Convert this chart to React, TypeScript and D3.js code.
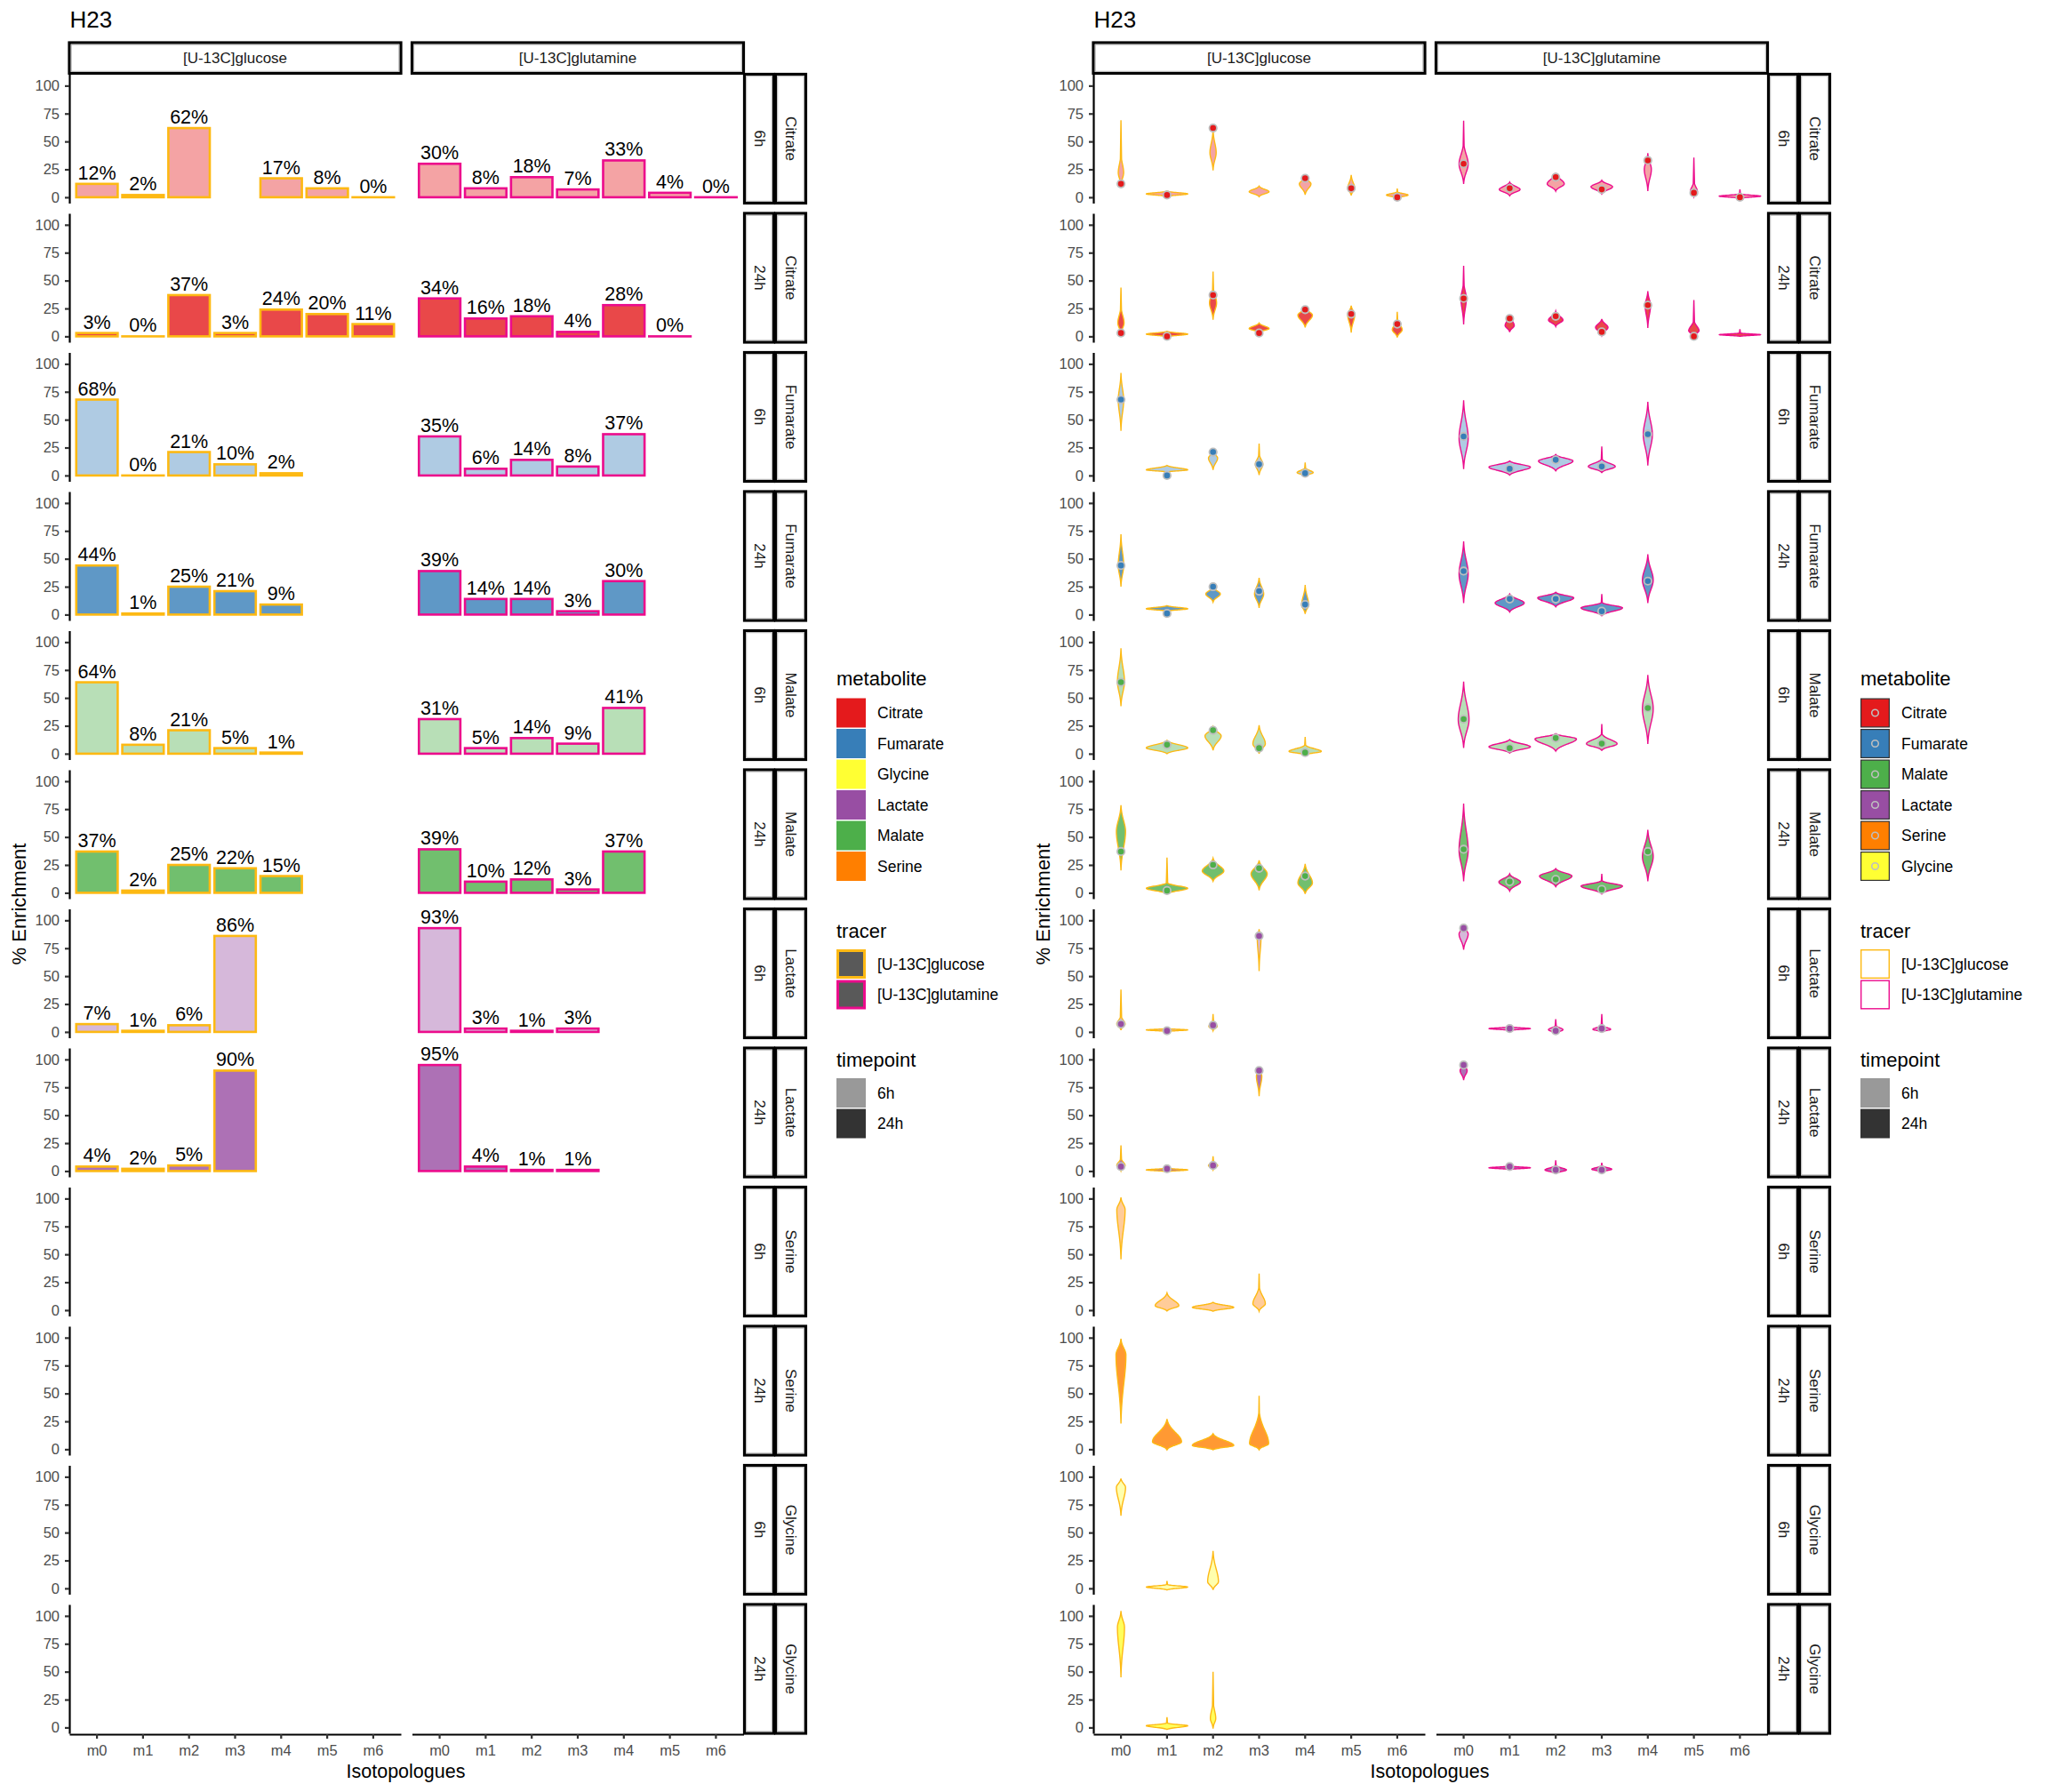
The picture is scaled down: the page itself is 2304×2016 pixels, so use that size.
import * as d3 from 'd3';
import React, { useEffect, useRef } from 'react';

// Categories
const isotopologues = ["m0", "m1", "m2", "m3", "m4", "m5", "m6"];
const tracers = ["[U-13C]glucose", "[U-13C]glutamine"];
const timepoints = ["6h", "24h"];
const rowMetabolites = ["Citrate", "Fumarate", "Malate", "Lactate", "Serine", "Glycine"];
const barLegendOrder = ["Citrate", "Fumarate", "Glycine", "Lactate", "Malate", "Serine"];
const violinLegendOrder = ["Citrate", "Fumarate", "Malate", "Lactate", "Serine", "Glycine"];
const yTicks = [0, 25, 50, 75, 100];

// Mean % enrichment per isotopologue (null = no bar)
const citrate6hGlc = [12, 2, 62, null, 17, 8, 0];
const citrate6hGln = [30, 8, 18, 7, 33, 4, 0];
const citrate24hGlc = [3, 0, 37, 3, 24, 20, 11];
const citrate24hGln = [34, 16, 18, 4, 28, 0, null];
const fumarate6hGlc = [68, 0, 21, 10, 2, null, null];
const fumarate6hGln = [35, 6, 14, 8, 37, null, null];
const fumarate24hGlc = [44, 1, 25, 21, 9, null, null];
const fumarate24hGln = [39, 14, 14, 3, 30, null, null];
const malate6hGlc = [64, 8, 21, 5, 1, null, null];
const malate6hGln = [31, 5, 14, 9, 41, null, null];
const malate24hGlc = [37, 2, 25, 22, 15, null, null];
const malate24hGln = [39, 10, 12, 3, 37, null, null];
const lactate6hGlc = [7, 1, 6, 86, null, null, null];
const lactate6hGln = [93, 3, 1, 3, null, null, null];
const lactate24hGlc = [4, 2, 5, 90, null, null, null];
const lactate24hGln = [95, 4, 1, 1, null, null, null];

// Violin outlines per isotopologue: [low, densest, high, relative width, thin tail end?]
type V = number[] | null;
const citrate6hGlcViolin: V[] = [[10, 22, 40, 0.13, 69], [0.6, 3, 5.5, 1], [24, 40, 60.5, 0.15], [0.5, 5, 10, 0.48], [2.3, 12, 18.5, 0.28], [1.6, 8, 20, 0.17], [-1, 2, 5, 0.52, 7.8]];
const citrate6hGlnViolin: V[] = [[12, 29.8, 50, 0.22, 68.6], [1.3, 7, 13.6, 0.5], [5.5, 12, 21.7, 0.41], [2.9, 9.4, 15.2, 0.52], [5.5, 25, 39.5, 0.17], [0.6, 5, 15, 0.17, 35.6], [-1, 1, 3, 1, 7]];
const citrate24hGlcViolin: V[] = [[1.6, 12, 28, 0.15, 43.8], [-0.5, 2, 4.5, 1], [15, 30, 45, 0.17, 58], [3.3, 7, 12, 0.48], [8, 19, 26, 0.35], [3.3, 19.5, 27.6, 0.17], [-1, 6, 15, 0.24, 22]];
const citrate24hGlnViolin: V[] = [[10.7, 34, 50, 0.13, 63.3], [3.9, 9.7, 19.5, 0.22], [8.8, 14.6, 22.7, 0.35], [1, 8, 15.6, 0.3], [7.5, 27.6, 40.6, 0.13], [0, 5, 15, 0.25, 32.5], [0, 1.5, 3, 1, 6.5]];
const fumarate6hGlcViolin: V[] = [[40, 67.5, 92, 0.13], [3, 5, 9, 1], [5, 15.6, 22, 0.22], [0.3, 10, 20, 0.18, 28.6], [-0.6, 2.6, 7, 0.39, 11.7]];
const fumarate6hGlnViolin: V[] = [[5.8, 33.4, 67.5, 0.22], [0.3, 7.5, 13, 1], [4.2, 13, 18.8, 0.83], [2.6, 8, 15, 0.65, 26], [9, 36.7, 66, 0.22]];
const fumarate24hGlcViolin: V[] = [[25, 44, 72, 0.13], [3, 5.2, 8, 1], [11.3, 18.5, 25, 0.35], [6, 18.5, 33, 0.22], [0.6, 8.7, 26.5, 0.17]];
const fumarate24hGlnViolin: V[] = [[10.4, 36.4, 65.6, 0.22], [2.3, 10.4, 18.5, 0.7], [7, 15, 20, 0.87], [-1, 6, 11, 1, 18.5], [10.4, 31, 54, 0.26]];
const malate6hGlcViolin: V[] = [[42.5, 64.6, 94.5, 0.17], [0, 5.2, 12, 1], [3, 16, 24, 0.39], [0, 8.8, 25.6, 0.3], [-1, 2, 8, 0.78, 15]];
const malate6hGlnViolin: V[] = [[5.2, 30.5, 64.6, 0.26], [0.6, 6.2, 12.7, 1], [2.3, 13.3, 18, 1], [3, 8.8, 18, 0.74, 26.6], [8.8, 40.3, 70.5, 0.26]];
const malate24hGlcViolin: V[] = [[20, 55, 78.6, 0.22], [-1, 4, 9, 1, 31.5], [10.4, 19.5, 31, 0.52], [2.3, 17, 29, 0.39], [-1, 8.8, 26, 0.35]];
const malate24hGlnViolin: V[] = [[10.4, 38, 80, 0.22], [1.6, 9.7, 17, 0.52], [5.5, 15, 21.7, 0.78], [-1, 6, 11, 1, 17], [10.4, 32.5, 56.5, 0.26]];
const lactate6hGlcViolin: V[] = [[1.6, 7, 15, 0.2, 38], [0.3, 1.8, 3, 1], [1, 5, 10, 0.2, 16], [54.5, 85, 92, 0.09]];
const lactate6hGlnViolin: V[] = [[73.7, 87.7, 95.8, 0.22], [1.3, 3, 4.5, 1], [-1.6, 2, 6, 0.35, 11.4], [0, 2.3, 6, 0.43, 16]];
const lactate24hGlcViolin: V[] = [[0.3, 5, 12, 0.2, 23], [-0.6, 1, 2.6, 1], [1, 5, 9, 0.22, 13.3], [67, 85, 92, 0.13]];
const lactate24hGlnViolin: V[] = [[81.5, 90, 96.8, 0.17], [1.3, 2.9, 4.5, 1], [-2.3, 1, 5, 0.52, 9.7], [-1, 1.6, 5, 0.48, 7.5]];
const serine6hGlcViolin: V[] = [[45.6, 90, 101, 0.2], [-0.8, 4, 15.4, 0.57], [-1, 2.5, 7, 1], [-1, 5.7, 22, 0.3, 32.7]];
const serine24hGlcViolin: V[] = [[23, 84.6, 99, 0.24], [-0.5, 6.7, 27, 0.7], [-0.5, 3.4, 14, 1], [-0.5, 5, 35, 0.46, 48]];
const glycine6hGlcViolin: V[] = [[65, 90.5, 98.5, 0.22], [-1.4, 1.2, 3.5, 1, 6.7], [-1.4, 6, 33.6, 0.26]];
const glycine24hGlcViolin: V[] = [[45, 89.8, 104.4, 0.17], [-1.8, 1.5, 4, 1, 9.3], [-1, 8, 25, 0.13, 50]];

const barData = new Map<string, (number | null)[][]>([
  ["Citrate 6h", [citrate6hGlc, citrate6hGln]],
  ["Citrate 24h", [citrate24hGlc, citrate24hGln]],
  ["Fumarate 6h", [fumarate6hGlc, fumarate6hGln]],
  ["Fumarate 24h", [fumarate24hGlc, fumarate24hGln]],
  ["Malate 6h", [malate6hGlc, malate6hGln]],
  ["Malate 24h", [malate24hGlc, malate24hGln]],
  ["Lactate 6h", [lactate6hGlc, lactate6hGln]],
  ["Lactate 24h", [lactate24hGlc, lactate24hGln]],
]);

const violinData = new Map<string, V[][]>([
  ["Citrate 6h", [citrate6hGlcViolin, citrate6hGlnViolin]],
  ["Citrate 24h", [citrate24hGlcViolin, citrate24hGlnViolin]],
  ["Fumarate 6h", [fumarate6hGlcViolin, fumarate6hGlnViolin]],
  ["Fumarate 24h", [fumarate24hGlcViolin, fumarate24hGlnViolin]],
  ["Malate 6h", [malate6hGlcViolin, malate6hGlnViolin]],
  ["Malate 24h", [malate24hGlcViolin, malate24hGlnViolin]],
  ["Lactate 6h", [lactate6hGlcViolin, lactate6hGlnViolin]],
  ["Lactate 24h", [lactate24hGlcViolin, lactate24hGlnViolin]],
  ["Serine 6h", [serine6hGlcViolin, []]],
  ["Serine 24h", [serine24hGlcViolin, []]],
  ["Glycine 6h", [glycine6hGlcViolin, []]],
  ["Glycine 24h", [glycine24hGlcViolin, []]],
]);

const metaboliteColors: Record<string, string> = {
  Citrate: "#E41A1C", Fumarate: "#377EB8", Glycine: "#FFFF33",
  Lactate: "#984EA3", Malate: "#4DAF4A", Serine: "#FF7F00",
};
const tracerColors = ["#FDB913", "#EC0C8C"];
const timeAlpha: Record<string, number> = { "6h": 0.4, "24h": 0.8 };

const FONT = "'Liberation Sans', Arial, Helvetica, sans-serif";
const PANEL_X = [78, 463.5];
const PANEL_W = 373;
const PANEL_TOP = 83.5;
const ROW_PITCH = 156.5;
const PANEL_H = 145;

function violinPath(cx: number, spec: number[], y: d3.ScaleLinear<number, number>, maxHalf: number) {
  const [lo, mode, hi, w, tail] = spec;
  const hw = w * maxHalf;
  const e3 = Math.exp(-3);
  const top = tail ?? hi;
  const body = (v: number) => {
    if (v < lo || v > hi) return 0;
    const u = v < mode ? (mode - v) / (mode - lo || 1) : (v - mode) / (hi - mode || 1);
    return Math.max(0, hw * (Math.exp(-3 * u * u) - e3) / (1 - e3));
  };
  const thin = (v: number) => (tail !== undefined && v >= mode ? 0.9 * (1 - (v - mode) / (tail - mode)) : 0);
  const prof = (v: number) => Math.max(body(v), thin(v));
  const vs = d3.range(0, 61).map(i => lo + (top - lo) * i / 60);
  return d3.area<number>()
    .x0(v => cx - prof(v))
    .x1(v => cx + prof(v))
    .y(v => y(v))
    .curve(d3.curveCatmullRom)(vs);
}

function strip(g: any, x: number, y: number, w: number, h: number, label: string, vertical: boolean) {
  g.append("rect").attr("x", x).attr("y", y).attr("width", w).attr("height", h)
    .attr("fill", "white").attr("stroke", "black").attr("stroke-width", 3.2);
  g.append("rect").attr("x", x + 2.2).attr("y", y + 2.2).attr("width", w - 4.4).attr("height", h - 4.4)
    .attr("fill", "none").attr("stroke", "#B5B5B5").attr("stroke-width", 1);
  const t = g.append("text")
    .attr("font-family", FONT).attr("font-size", 17).attr("fill", "#1A1A1A")
    .attr("text-anchor", "middle").attr("dominant-baseline", "central")
    .text(label);
  if (vertical) t.attr("transform", `translate(${x + w / 2},${y + h / 2}) rotate(90)`);
  else t.attr("x", x + w / 2).attr("y", y + h / 2);
}

function drawPlot(root: any, offset: number, kind: "bar" | "violin") {
  const g = root.append("g").attr("transform", `translate(${offset},0)`);

  g.append("text").attr("x", 78.5).attr("y", 31).attr("font-family", FONT)
    .attr("font-size", 26).attr("fill", "black").text("H23");

  const y = d3.scaleLinear().domain([-5.25, 110.25]).range([PANEL_H, 0]);
  const x = d3.scaleBand().domain(isotopologues).range([0, PANEL_W]).paddingInner(0).paddingOuter(0.1);
  const step = x.step();
  const cx = (iso: string) => (x(iso) as number) + step / 2;

  tracers.forEach((t, ti) => strip(g, PANEL_X[ti], 48, PANEL_W, 34.5, t, false));

  const rows = rowMetabolites.flatMap(m => timepoints.map(tp => ({ m, tp })));
  rows.forEach((row, ri) => {
    const top = PANEL_TOP + ri * ROW_PITCH;
    const key = `${row.m} ${row.tp}`;
    const color = metaboliteColors[row.m];
    const alpha = timeAlpha[row.tp];

    tracers.forEach((t, ti) => {
      const pg = g.append("g").attr("transform", `translate(${PANEL_X[ti]},${top})`);
      const values = barData.get(key)?.[ti] ?? [];
      const pts = values.map((v, i) => ({ iso: isotopologues[i], v })).filter(d => d.v !== null) as { iso: string; v: number }[];

      if (kind === "bar") {
        const bw = step * 0.9;
        pg.selectAll("rect.bar").data(pts).join("rect")
          .attr("class", "bar")
          .attr("x", d => cx(d.iso) - bw / 2)
          .attr("y", d => y(d.v))
          .attr("width", bw)
          .attr("height", d => Math.max(y(0) - y(d.v), 0.01))
          .attr("fill", color).attr("fill-opacity", alpha)
          .attr("stroke", tracerColors[ti]).attr("stroke-width", 2.6);
        pg.selectAll("text.lab").data(pts).join("text")
          .attr("class", "lab")
          .attr("x", d => cx(d.iso))
          .attr("y", d => y(d.v) - 5)
          .attr("text-anchor", "middle")
          .attr("font-family", FONT).attr("font-size", 21.5).attr("fill", "black")
          .text(d => `${d.v}%`);
      } else {
        const vio = violinData.get(key)?.[ti] ?? [];
        vio.forEach((spec, i) => {
          if (!spec) return;
          pg.append("path")
            .attr("d", violinPath(cx(isotopologues[i]), spec, y, step * 0.45))
            .attr("fill", color).attr("fill-opacity", alpha)
            .attr("stroke", tracerColors[ti]).attr("stroke-width", 1.4);
        });
        pg.selectAll("circle.pt").data(pts).join("circle")
          .attr("class", "pt")
          .attr("cx", d => cx(d.iso))
          .attr("cy", d => y(d.v))
          .attr("r", 4.2)
          .attr("fill", color)
          .attr("stroke", "#BEBEBE").attr("stroke-width", 1.8);
      }

      if (ti === 0) {
        const ax = pg.append("g").call(d3.axisLeft(y).tickValues(yTicks).tickSize(5).tickPadding(6).tickSizeOuter(0));
        ax.select(".domain").attr("stroke", "black").attr("stroke-width", 2.2);
        ax.selectAll(".tick line").attr("stroke", "#333").attr("stroke-width", 2.2);
        ax.selectAll(".tick text").attr("fill", "#4D4D4D").attr("font-size", 16.5).attr("font-family", FONT);
      }
      if (ri === rows.length - 1) {
        const ax = pg.append("g").attr("transform", `translate(0,${PANEL_H + 1})`)
          .call(d3.axisBottom(x).tickSize(5).tickPadding(7).tickSizeOuter(0));
        ax.select(".domain").attr("stroke", "black").attr("stroke-width", 2.2);
        ax.selectAll(".tick line").attr("stroke", "#333").attr("stroke-width", 2.2);
        ax.selectAll(".tick text").attr("fill", "#4D4D4D").attr("font-size", 16.5).attr("font-family", FONT);
      }
    });

    strip(g, 837.5, top, 33, PANEL_H, row.tp, true);
    strip(g, 872.5, top, 34, PANEL_H, row.m, true);
  });

  // Axis titles
  g.append("text").attr("transform", `translate(21,1017) rotate(-90)`)
    .attr("text-anchor", "middle").attr("dominant-baseline", "central")
    .attr("font-family", FONT).attr("font-size", 22).attr("fill", "black").text("% Enrichment");
  g.append("text").attr("x", 456.5).attr("y", 1999.5).attr("text-anchor", "middle")
    .attr("font-family", FONT).attr("font-size", 21.5).attr("fill", "black").text("Isotopologues");

  // Legends
  const lx = 941;
  const keySize = 33;
  const keyPitch = 34.5;
  const legTitle = (label: string, yb: number) =>
    g.append("text").attr("x", lx).attr("y", yb).attr("font-family", FONT)
      .attr("font-size", 22).attr("fill", "black").text(label);
  const legLabel = (label: string, yc: number) =>
    g.append("text").attr("x", lx + 46).attr("y", yc).attr("dominant-baseline", "central")
      .attr("font-family", FONT).attr("font-size", 17.5).attr("fill", "black").text(label);

  legTitle("metabolite", 771);
  const order = kind === "bar" ? barLegendOrder : violinLegendOrder;
  order.forEach((m, i) => {
    const ky = 785.5 + i * keyPitch;
    if (kind === "bar") {
      g.append("rect").attr("x", lx).attr("y", ky).attr("width", keySize).attr("height", keySize)
        .attr("fill", metaboliteColors[m]);
    } else {
      g.append("rect").attr("x", lx + 0.6).attr("y", ky + 0.6).attr("width", keySize - 1.2).attr("height", keySize - 1.2)
        .attr("fill", metaboliteColors[m]).attr("stroke", "#333").attr("stroke-width", 1.2);
      g.append("circle").attr("cx", lx + keySize / 2).attr("cy", ky + keySize / 2).attr("r", 3.8)
        .attr("fill", metaboliteColors[m]).attr("stroke", "#BEBEBE").attr("stroke-width", 1.6);
    }
    legLabel(m, ky + keySize / 2);
  });

  legTitle("tracer", 1055);
  tracers.forEach((t, i) => {
    const ky = 1068 + i * keyPitch;
    if (kind === "bar") {
      g.append("rect").attr("x", lx + 1.5).attr("y", ky + 1.5).attr("width", keySize - 3).attr("height", keySize - 3)
        .attr("fill", "#595959").attr("stroke", tracerColors[i]).attr("stroke-width", 3);
    } else {
      g.append("rect").attr("x", lx + 0.7).attr("y", ky + 0.7).attr("width", keySize - 1.4).attr("height", keySize - 1.4)
        .attr("fill", "white").attr("stroke", tracerColors[i]).attr("stroke-width", 1.4);
    }
    legLabel(t, ky + keySize / 2);
  });

  legTitle("timepoint", 1200);
  timepoints.forEach((tp, i) => {
    const ky = 1213 + i * keyPitch;
    g.append("rect").attr("x", lx).attr("y", ky).attr("width", keySize).attr("height", keySize)
      .attr("fill", "black").attr("fill-opacity", timeAlpha[tp]);
    legLabel(tp, ky + keySize / 2);
  });
}

const App: React.FC = () => {
  const ref = useRef<SVGSVGElement>(null);

  useEffect(() => {
    if (!ref.current) return;
    const svg = d3.select(ref.current);
    svg.selectAll("*").remove();
    svg.append("rect").attr("width", 2304).attr("height", 2016).attr("fill", "white");
    drawPlot(svg, 0, "bar");
    drawPlot(svg, 1152, "violin");
  }, []);

  return (
    <svg ref={ref} width={2304} height={2016}
      style={{ position: "absolute", left: 0, top: 0, display: "block" }} />
  );
};

export default App;
